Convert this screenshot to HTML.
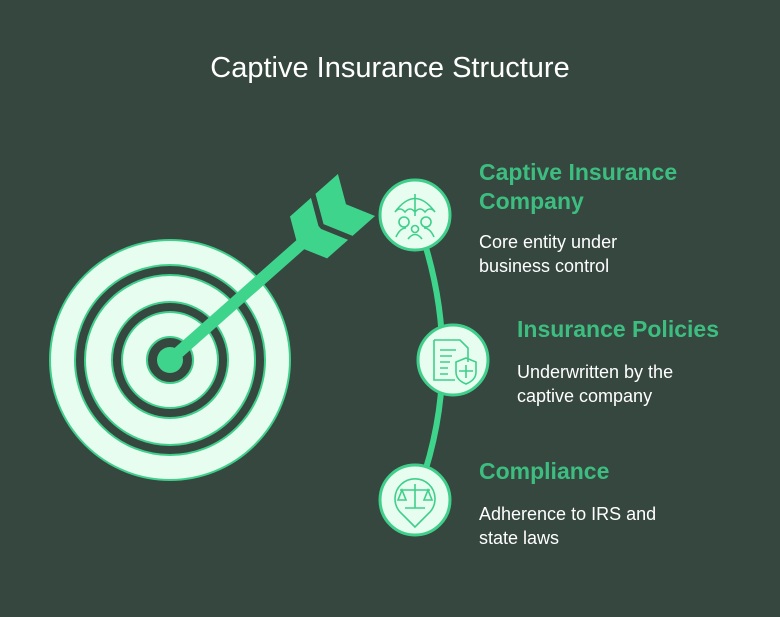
<!DOCTYPE html>
<html><head><meta charset="utf-8"><style>
html,body{margin:0;padding:0;background:#35473f;}
svg{display:block}
text{font-family:"Liberation Sans",sans-serif;}
</style></head><body>
<svg width="780" height="617" viewBox="0 0 780 617" xmlns="http://www.w3.org/2000/svg">
<rect width="780" height="617" fill="#35473f"/>
<text x="390" y="77" text-anchor="middle" font-size="29" fill="#ffffff">Captive Insurance Structure</text>
<!-- target -->
<g stroke="#3fcf8a" stroke-width="2">
<circle cx="170" cy="360" r="120" fill="#e6fdf0"/>
<circle cx="170" cy="360" r="95" fill="#35473f"/>
<circle cx="170" cy="360" r="85" fill="#e6fdf0"/>
<circle cx="170" cy="360" r="58" fill="#35473f"/>
<circle cx="170" cy="360" r="48" fill="#e6fdf0"/>
<circle cx="170" cy="360" r="23" fill="#35473f"/>
</g>
<circle cx="170" cy="360" r="13" fill="#3fd48c"/>
<g transform="translate(170,360) rotate(-41.5)" fill="#3fd48c">
<rect x="0" y="-6" width="200" height="12"/>
<polygon points="185,-28 213,-28 199,0 213,28 185,28 171,0"/>
<polygon points="219,-28 249,-28 235,0 249,28 219,28 205,0"/>
</g>
<!-- arc -->
<path d="M415,215 Q470,360 415,500" fill="none" stroke="#3fd48c" stroke-width="6"/>
<g fill="#e6fdf0" stroke="#3fcf8a" stroke-width="3">
<circle cx="415" cy="215" r="35"/>
<circle cx="453" cy="360" r="35"/>
<circle cx="415" cy="500" r="35"/>
</g>
<!-- icons -->
<g fill="none" stroke="#3fcf8a" stroke-width="1.6">
<path d="M395,212 Q415,185 435,212 M395,212 Q400,206 405,212 Q410,206 415,212 Q420,206 425,212 Q430,206 435,212 M415,194 V216"/>
<circle cx="404" cy="222" r="5"/><circle cx="426" cy="222" r="5"/><circle cx="415" cy="229" r="3.5"/>
<path d="M396,237 Q400,228 406,228 M434,237 Q430,228 424,228 M408,239 Q415,230 422,239"/>
<path d="M434,340 H460 L468,348 V362 M434,340 V380 H455"/>
<path d="M440,350 H456 M440,356 H452 M440,362 H450 M440,368 H448 M440,374 H448"/>
<path d="M456,362 L466,358 L476,362 V372 Q476,380 466,384 Q456,380 456,372 Z M466,365 V378 M459,371 H473"/>
<path d="M415,527 L400,512 A20,20 0 1 1 430,512 Z"/>
<path d="M415,484 V508 M405,508 H425 M400,490 H430 M402,490 L398,500 H406 Z M428,490 L424,500 H432 Z"/>
</g>
<!-- texts -->
<g font-weight="bold" font-size="23" fill="#3dbe80">
<text x="479" y="180">Captive Insurance</text>
<text x="479" y="209">Company</text>
<text x="517" y="337">Insurance Policies</text>
<text x="479" y="479">Compliance</text>
</g>
<g font-size="18" fill="#ffffff">
<text x="479" y="248">Core entity under</text>
<text x="479" y="272">business control</text>
<text x="517" y="378">Underwritten by the</text>
<text x="517" y="402">captive company</text>
<text x="479" y="520">Adherence to IRS and</text>
<text x="479" y="544">state laws</text>
</g>
</svg>
</body></html>
